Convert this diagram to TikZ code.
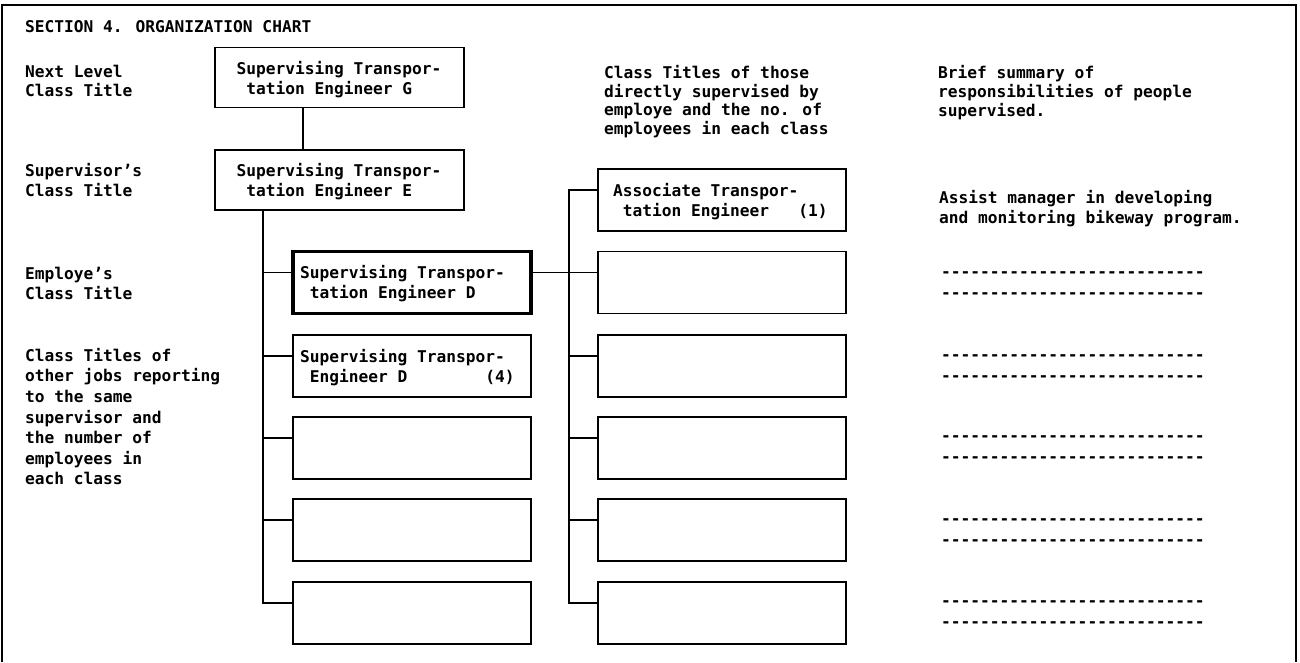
\documentclass[tikz,border=0pt]{standalone}
\usepackage{fontspec}
\setmainfont{DejaVu Sans Mono}
\newcommand\Tst[1][13pt]{\rule{0pt}{#1}}
\newcommand\Bst{\rule[-4pt]{0pt}{4pt}}
\newcommand\hy{\mbox{-}}
\newcommand\hyn{\hy\hy\hy\hy\hy\hy\hy\hy\hy}
\newcommand\hyrow{\hyn\hyn\hyn}
\begin{document}
\begin{tikzpicture}[x=1pt,y=-1pt,
  every node/.style={font=\fontsize{16.2}{20}\selectfont\bfseries},
  lsk/.style={font=\fontsize{16.2}{#1}\selectfont\bfseries},
  frame/.style={line width=1.4pt},
  conn/.style={line width=1.6pt},
  box/.style={draw, line width=1.8pt, align=left, inner ysep=0pt,
    execute at begin node={\spaceskip=0pt\xspaceskip=0pt\relax}},
  topbox/.style={box, minimum width=249pt, minimum height=60pt, inner xsep=21.5pt, text width=206pt},
  subbox/.style={box, minimum width=238pt, minimum height=62pt, inner xsep=7pt, text width=224pt},
  midbox/.style={box, minimum width=248pt, minimum height=62pt, inner xsep=15pt, text width=218pt},
  lbl/.style={anchor=north west, inner sep=0pt, align=left}
]
\fill[white] (0,0) rectangle (1300,662);
\useasboundingbox (0,0) rectangle (1300,662);

% frame
\draw[frame] (2,662) -- (2,5) -- (1296,5) -- (1296,662);

% left labels
\node[lbl, lsk=19] (title) at (25,19) {\Tst SECTION 4. ORGANIZATION CHART};
\node[lbl, lsk=19] (lab1) at (25,64) {\Tst Next Level\\Class Title};
\node[lbl, lsk=20] (lab2) at (25,163) {\Tst Supervisor's\\Class Title};
\node[lbl, lsk=20] (lab3) at (25,266) {\Tst Employe's\\Class Title};
\node[lbl, lsk=20.6] (lab4) at (25,348) {\Tst Class Titles of\\other jobs reporting\\to the same\\supervisor and\\the number of\\employees in\\each class};

% headers
\node[lbl, lsk=18.7] (hmid) at (604,65) {\Tst Class Titles of those\\directly supervised by\\employe and the no. of\\employees in each class};
\node[lbl, lsk=19] (hright) at (938,65) {\Tst Brief summary of\\responsibilities of people\\supervised.};

% top boxes
\node[topbox] (G) at (339.5,77.5) {\Tst[18pt]Supervising Transpor-\\\phantom{x}tation Engineer G\Bst};
\node[topbox] (E) at (339.5,180) {\Tst[16pt]Supervising Transpor-\\\phantom{x}tation Engineer E\Bst};

% left sub boxes
\node[subbox, line width=3.6pt] (L1) at (412,282.5) {\Tst[16pt]Supervising Transpor-\\\phantom{x}tation Engineer D\Bst};
\node[subbox] (L2) at (412,366) {\Tst[16pt]Supervising Transpor-\\\phantom{x}Engineer D\phantom{xxxxxxxx}(4)\Bst};
\node[subbox] (L3) at (412,448) {};
\node[subbox] (L4) at (412,530) {};
\node[subbox] (L5) at (412,613) {};

% middle boxes
\node[midbox] (M1) at (722,200) {\Tst[16pt]Associate Transpor-\\\phantom{x}tation Engineer\phantom{xxx}(1)\Bst};
\node[midbox] (M2) at (722,282.5) {};
\node[midbox] (M3) at (722,366) {};
\node[midbox] (M4) at (722,448) {};
\node[midbox] (M5) at (722,530) {};
\node[midbox] (M6) at (722,613) {};

% right column text
\node[lbl, lsk=20] (s1) at (939,190) {\Tst Assist manager in developing\\and monitoring bikeway program.};
\node[lbl, lsk=20.5] (d2) at (941,264.3) {\Tst\hyrow\\\hyrow};
\node[lbl, lsk=20.5] (d3) at (941,347.3) {\Tst\hyrow\\\hyrow};
\node[lbl, lsk=20.5] (d4) at (941,428.3) {\Tst\hyrow\\\hyrow};
\node[lbl, lsk=20.5] (d5) at (941,511.3) {\Tst\hyrow\\\hyrow};
\node[lbl, lsk=20.5] (d6) at (941,593.3) {\Tst\hyrow\\\hyrow};

% connectors
\coordinate (vG) at (303,0);
\coordinate (vL) at (263,0);
\coordinate (vM) at (569,0);
\foreach \k in {1,...,5} {\coordinate (L\k c) at ([yshift=10pt]L\k.west);}
\foreach \k in {1,...,6} {\coordinate (M\k c) at ([yshift=10pt]M\k.west);}
\coordinate (L1e) at ([yshift=10pt]L1.east);

\draw[conn] (vG |- G.south) -- (vG |- E.north);
\draw[conn] (vL |- E.south) |- (L5c);
\foreach \k in {1,...,4} {\draw[conn] (vL |- L\k c) -- (L\k c);}
\draw[conn] (L1e) -- (M2c);
\draw[conn] (M1c) -| (vM |- M6c) -- (M6c);
\foreach \k in {3,...,5} {\draw[conn] (vM |- M\k c) -- (M\k c);}
\end{tikzpicture}
\end{document}
